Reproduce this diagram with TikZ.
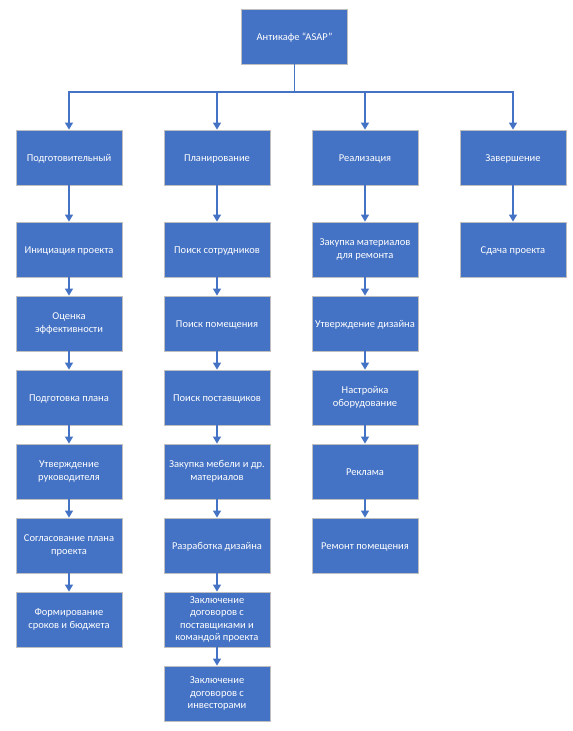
\documentclass[tikz,border=0pt]{standalone}
\usepackage{fontspec}
\setmainfont{Carlito}
\usetikzlibrary{arrows.meta}
\definecolor{boxblue}{HTML}{4472C4}
\definecolor{boxedge}{HTML}{BFBFBF}
\newcommand{\mlines}[1]{\begin{tabular}{@{}c@{}}#1\end{tabular}}
\begin{document}
\begin{tikzpicture}[x=1pt,y=-1pt,
  box/.style={draw=boxedge, line width=0.8pt, fill=boxblue, text=white,
    minimum width=106pt, minimum height=55pt, inner sep=1pt, align=center,
    font=\fontsize{10.5}{12.6}\selectfont,
    execute at begin node={\rule{0pt}{9.8pt}},
    execute at end node={\rule[-2.8pt]{0pt}{0pt}}},
  conn/.style={draw=boxblue, line width=1.3pt},
  arr/.style={conn, -{Triangle[width=8pt,length=7pt]}}]
\fill[white] (0,0) rectangle (573,731);
\useasboundingbox (0,0) rectangle (573,731);
% top
\node[box] (top) at (294.5,36.5) {Антикафе “ASAP”};
% level 1
\node[box] (c1) at (69,157.5) {Подготовительный};
\node[box] (c2) at (217,157.5) {Планирование};
\node[box] (c3) at (365,157.5) {Реализация};
\node[box] (c4) at (513,157.5) {Завершение};
% column 1
\node[box] (a1) at (69,249.5) {Инициация проекта};
\node[box] (a2) at (69,323.5) {\mlines{Оценка\\эффективности}};
\node[box] (a3) at (69,397.5) {Подготовка плана};
\node[box] (a4) at (69,471.5) {\mlines{Утверждение\\руководителя}};
\node[box] (a5) at (69,545.5) {\mlines{Согласование плана\\проекта}};
\node[box] (a6) at (69,619.5) {\mlines{Формирование\\сроков и бюджета}};
% column 2
\node[box] (b1) at (217,249.5) {Поиск сотрудников};
\node[box] (b2) at (217,323.5) {Поиск помещения};
\node[box] (b3) at (217,397.5) {Поиск поставщиков};
\node[box] (b4) at (217,471.5) {\mlines{Закупка мебели и др.\\материалов}};
\node[box] (b5) at (217,545.5) {Разработка дизайна};
\node[box] (b6) at (217,619.5) {\mlines{Заключение\\договоров с\\поставщиками и\\командой проекта}};
\node[box] (b7) at (217,693.5) {\mlines{Заключение\\договоров с\\инвесторами}};
% column 3
\node[box] (d1) at (365,249.5) {\mlines{Закупка материалов\\для ремонта}};
\node[box] (d2) at (365,323.5) {Утверждение дизайна};
\node[box] (d3) at (365,397.5) {\mlines{Настройка\\оборудование}};
\node[box] (d4) at (365,471.5) {Реклама};
\node[box] (d5) at (365,545.5) {Ремонт помещения};
% column 4
\node[box] (e1) at (513,249.5) {Сдача проекта};
% bus
\coordinate (bus) at (294.5,92);
\draw[conn] (top.south) -- (bus);
\draw[arr] (bus) -| (c1.north);
\draw[arr] (bus) -| (c2.north);
\draw[arr] (bus) -| (c3.north);
\draw[arr] (bus) -| (c4.north);
% columns
\foreach \p/\q in {c1/a1,a1/a2,a2/a3,a3/a4,a4/a5,a5/a6,
                   c2/b1,b1/b2,b2/b3,b3/b4,b4/b5,b5/b6,b6/b7,
                   c3/d1,d1/d2,d2/d3,d3/d4,d4/d5,
                   c4/e1}
  \draw[arr] (\p.south) -- (\q.north);
\end{tikzpicture}
\end{document}
